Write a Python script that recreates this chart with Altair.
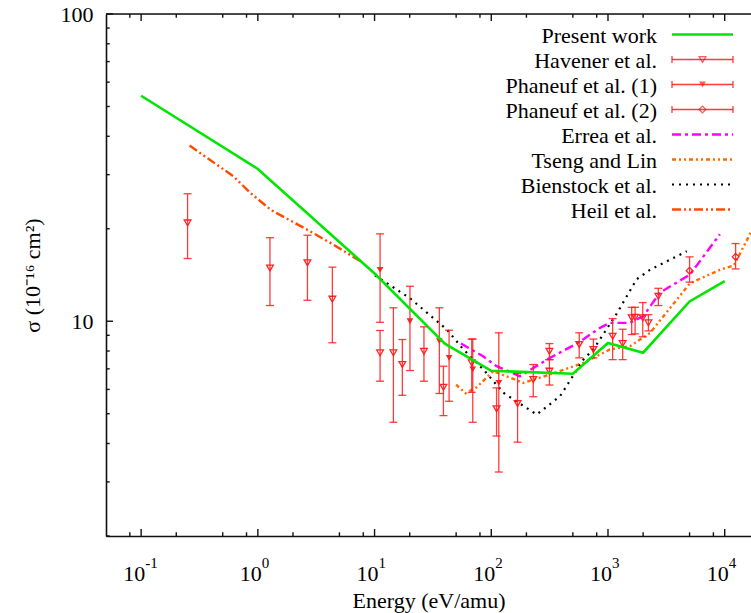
import altair as alt
import pandas as pd

# ---------------- data ----------------
present_x = [0.1, 1, 10, 40, 100, 500, 1000, 2000, 5000, 10000]
present_y = [54.2, 31.3, 14.3, 8.45, 6.9, 6.75, 8.5, 7.9, 11.6, 13.5]

heil_x = [0.26, 0.62, 0.86, 1.3, 2.5, 4.4, 7.5]
heil_y = [37.3, 29.6, 26.2, 23.0, 20.1, 17.8, 15.7]

errea_x = [55, 85, 111, 176, 318, 557, 855, 1040, 1545, 2010, 2790, 5050, 9100]
errea_y = [8.46, 7.69, 7.14, 6.62, 7.6, 8.51, 9.52, 9.88, 9.88, 10.4, 12.4, 14.2, 19.2]

bien_x = [10.1, 20, 41.6, 57.8, 85.5, 127, 245, 388, 615, 750, 1190, 1760, 2290, 4730]
bien_y = [14.1, 11.9, 9.4, 8.09, 6.97, 5.85, 4.97, 5.70, 7.5, 8.1, 10.6, 13.7, 14.7, 16.9]

tseng_x = [50, 60, 75, 104, 188, 318, 615, 1040, 1550, 2290, 5050, 9100, 12000, 16800]
tseng_y = [6.22, 5.83, 6.1, 6.88, 6.3, 6.71, 7.32, 8.09, 8.3, 9.16, 13.3, 14.7, 15.2, 19.5]

hav_x = [0.25, 1.27, 2.66, 4.35, 11.15, 14.5, 17.3, 26.5, 38.9, 68, 111, 168, 229, 315, 315,
         567, 750, 1096, 1336, 1596, 1707, 1985, 2220, 2700]
hav_y = [20.9, 14.9, 15.5, 11.8, 7.89, 7.89, 7.23, 7.99, 6.10, 7.32, 5.19, 5.40, 6.46, 7.99, 6.88,
         8.40, 8.09, 8.93, 8.46, 10.26, 10.3, 10.26, 9.88, 12.06]
hav_lo = [16.0, 11.25, 11.7, 8.51, 6.38, 4.69, 5.74, 6.38, 4.93, 5.87, 4.23, 4.04, 5.68, 7.5, 6.2,
          7.6, 7.6, 7.5, 7.5, 9.05, 9.1, 8.9, 9.3, 11.25]
hav_hi = [26.0, 18.7, 19.05, 15.0, 9.33, 11.06, 8.72, 9.59, 7.14, 8.75, 6.07, 6.76, 7.23, 8.46, 7.5,
          9.17, 8.75, 10.2, 9.42, 11.1, 11.1, 11.5, 10.5, 12.8]

ph1_x = [11.15, 20.1, 35.9, 43.5, 69.4, 116]
ph1_y = [14.7, 10.0, 8.61, 7.6, 6.97, 6.30]
ph1_lo = [9.92, 6.91, 5.82, 5.49, 4.69, 3.23]
ph1_hi = [19.25, 13.0, 11.06, 9.35, 8.75, 9.17]

ph2_x = [5000, 12400]
ph2_y = [14.6, 16.2]
ph2_lo = [13.4, 14.8]
ph2_hi = [16.2, 17.9]

x_major = [0.1, 1, 10, 100, 1000, 10000]
x_major_exp = ["-1", "0", "1", "2", "3", "4"]
x_minor = [0.08, 0.2, 0.5, 0.8, 2, 5, 8, 20, 50, 80, 200, 500, 800, 2000, 5000, 8000]
y_major = [10, 100]
y_minor = [3, 4, 5, 6, 7, 8, 9, 20, 30, 40, 50, 60, 70, 80, 90, 2]

legend_names = ["Present work", "Havener et al.", "Phaneuf et al. (1)", "Phaneuf et al. (2)",
                "Errea et al.", "Tseng and Lin", "Bienstock et al.", "Heil et al."]

# ---------------- styling ----------------
W, H = 645, 522
FONT = "Liberation Serif"
FS = 22
FS_EXP = 15
RED = "#ff1a1a"
GREEN = "#00e600"
MAGENTA = "#ff00ff"
TSENG = "#ff6a00"
HEIL = "#ff4a00"
BLACK = "#000000"

xs = alt.Scale(type="log", domain=[0.05, 16800], nice=False)
ys = alt.Scale(type="log", domain=[2, 100], nice=False)

XAX = alt.Axis(values=x_major, labels=False, ticks=False, grid=False,
               domainColor="#111111", domainWidth=1.6,
               title="Energy (eV/amu)", titleFont=FONT,
               titleFontSize=FS, titleFontWeight="normal", titleColor="black", titlePadding=54)
YAX = alt.Axis(values=y_major, format="d", ticks=False, grid=False,
               domainColor="#111111", domainWidth=1.6, labelFont=FONT, labelFontSize=FS,
               labelColor="black", labelPadding=13, title="σ (10⁻¹⁶ cm²)", titleFont=FONT,
               titleFontSize=FS, titleFontWeight="normal", titleColor="black", titlePadding=16,
               labelFlush=False, labelOverlap=False)


def X(f="x"):
    return alt.X(f, type="quantitative", scale=xs, axis=XAX)


def Y(f="y"):
    return alt.Y(f, type="quantitative", scale=ys, axis=YAX)


def line(xv, yv, color, dash=None, width=2.4):
    df = pd.DataFrame({"x": xv, "y": yv})
    kw = dict(color=color, strokeWidth=width, clip=True, interpolate="linear")
    if dash:
        kw["strokeDash"] = dash
    return alt.Chart(df).mark_line(**kw).encode(x=X(), y=Y(), order="x:Q")


def errset(xv, yv, lo, hi, shape, filled):
    df = pd.DataFrame({"x": xv, "y": yv, "lo": lo, "hi": hi})
    base = alt.Chart(df)
    bars = base.mark_rule(color=RED, strokeWidth=1.3, opacity=0.85, clip=True).encode(
        x=X(), y=Y("lo"), y2="hi")
    cap_lo = base.mark_tick(orient="horizontal", size=8, thickness=1.3, color=RED,
                            opacity=0.85, clip=True).encode(x=X(), y=Y("lo"))
    cap_hi = base.mark_tick(orient="horizontal", size=8, thickness=1.3, color=RED,
                            opacity=0.85, clip=True).encode(x=X(), y=Y("hi"))
    pts = base.mark_point(shape=shape, filled=filled, size=45, color=RED, strokeWidth=1.3,
                          opacity=0.95, clip=True).encode(x=X(), y=Y())
    return [bars, cap_lo, cap_hi, pts]


layers = []

# inward ticks
def tick_layer(vals, axis, length):
    df = pd.DataFrame({"v": vals})
    c = alt.Chart(df).mark_rule(color="#111111", strokeWidth=1.4)
    out = []
    if axis == "x":
        out.append(c.encode(x=X("v"), y=alt.value(H), y2=alt.value(H - length)))
        out.append(c.encode(x=X("v"), y=alt.value(0), y2=alt.value(length)))
    else:
        out.append(c.encode(y=Y("v"), x=alt.value(0), x2=alt.value(length)))
    return out

layers += tick_layer(x_major, "x", 7)
layers += tick_layer(x_minor, "x", 3.7)
layers += tick_layer(y_major, "y", 7)
layers += tick_layer(y_minor, "y", 3.7)

# x tick labels as 10 with a raised exponent
lab_df = pd.DataFrame({"v": x_major, "base": ["10"] * len(x_major), "exp": x_major_exp})
layers.append(alt.Chart(lab_df).mark_text(align="right", baseline="alphabetic", font=FONT,
                                          fontSize=FS, color="black", dx=4).encode(
    x=X("v"), y=alt.value(H + 45), text="base:N"))
layers.append(alt.Chart(lab_df).mark_text(align="left", baseline="alphabetic", font=FONT,
                                          fontSize=FS_EXP, color="black", dx=4).encode(
    x=X("v"), y=alt.value(H + 32), text="exp:N"))

# top border
layers.append(alt.Chart(pd.DataFrame({"v": [0]})).mark_rule(color="#111111", strokeWidth=1.6).encode(
    x=alt.value(0), x2=alt.value(W), y=alt.value(0)))

# curves
layers.append(line(heil_x, heil_y, HEIL, [9, 3, 2, 3, 2, 3]))
layers.append(line(tseng_x, tseng_y, TSENG, [4, 3, 2, 3, 2, 3]))
layers.append(line(bien_x, bien_y, BLACK, [2, 5], 2.2))
layers.append(line(errea_x, errea_y, MAGENTA, [9, 4, 3, 4]))
layers += errset(hav_x, hav_y, hav_lo, hav_hi, "triangle-down", False)
layers += errset(ph1_x, ph1_y, ph1_lo, ph1_hi, "triangle-down", True)
layers += errset(ph2_x, ph2_y, ph2_lo, ph2_hi, "diamond", False)
layers.append(line(present_x, present_y, GREEN, None, 2.6))

# legend
TX = 551
L0, L1 = 566, 627
LM = (L0 + L1) / 2
styles = [
    ("line", GREEN, None, None, None),
    ("err", RED, None, "triangle-down", False),
    ("err", RED, None, "triangle-down", True),
    ("err", RED, None, "diamond", False),
    ("line", MAGENTA, [9, 4, 3, 4], None, None),
    ("line", TSENG, [4, 3, 2, 3, 2, 3], None, None),
    ("line", BLACK, [2, 5], None, None),
    ("line", HEIL, [9, 3, 2, 3, 2, 3], None, None),
]
for i, (name, st) in enumerate(zip(legend_names, styles)):
    yy = 20.5 + 25 * i
    d = alt.Chart(pd.DataFrame({"label": [name]}))
    layers.append(d.mark_text(align="right", baseline="middle", font=FONT, fontSize=FS,
                              color="black").encode(text="label:N", x=alt.value(TX), y=alt.value(yy + 1)))
    kind, col, dash, shape, filled = st
    if kind == "line":
        kw = dict(color=col, strokeWidth=2.4 if col != BLACK else 2.2)
        if dash:
            kw["strokeDash"] = dash
        layers.append(d.mark_rule(**kw).encode(x=alt.value(L0), x2=alt.value(L1), y=alt.value(yy)))
    else:
        layers.append(d.mark_rule(color=RED, strokeWidth=1.3, opacity=0.85).encode(
            x=alt.value(L0), x2=alt.value(L1), y=alt.value(yy)))
        for xx in (L0, L1):
            layers.append(d.mark_rule(color=RED, strokeWidth=1.3, opacity=0.85).encode(
                x=alt.value(xx), y=alt.value(yy - 3.5), y2=alt.value(yy + 3.5)))
        layers.append(d.mark_point(shape=shape, filled=filled, size=45, color=RED,
                                   strokeWidth=1.3).encode(x=alt.value(LM), y=alt.value(yy)))

chart = alt.layer(*layers).properties(
    width=W, height=H,
    autosize=alt.AutoSizeParams(type="none"),
    padding={"left": 106, "top": 14, "right": 0, "bottom": 77},
).configure_view(stroke=None).configure(background="white", font=FONT)

chart.save("out.html", embed_options={"renderer": "svg", "actions": False})
